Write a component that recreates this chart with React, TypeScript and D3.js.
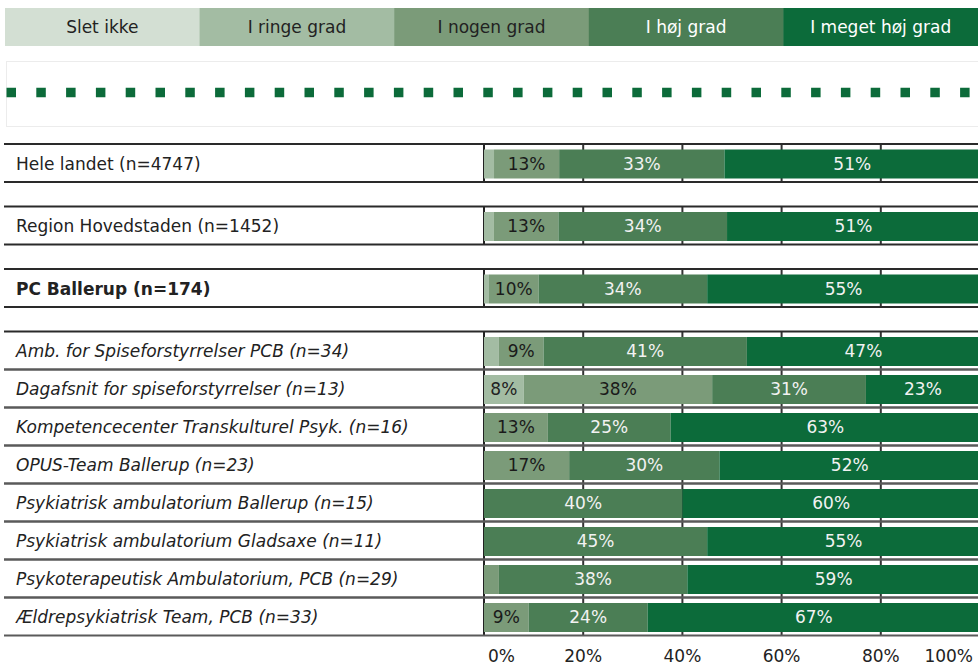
import React from "react";
import * as d3 from "d3";

const categories = [
  "Hele landet (n=4747)",
  "Region Hovedstaden (n=1452)",
  "PC Ballerup (n=174)",
  "Amb. for Spiseforstyrrelser PCB (n=34)",
  "Dagafsnit for spiseforstyrrelser (n=13)",
  "Kompetencecenter Transkulturel Psyk. (n=16)",
  "OPUS-Team Ballerup (n=23)",
  "Psykiatrisk ambulatorium Ballerup (n=15)",
  "Psykiatrisk ambulatorium Gladsaxe (n=11)",
  "Psykoterapeutisk Ambulatorium, PCB (n=29)",
  "Ældrepsykiatrisk Team, PCB (n=33)",
];
const rowStyle = ["normal", "normal", "bold", "italic", "italic", "italic", "italic", "italic", "italic", "italic", "italic"];

const seriesNames = ["Slet ikke", "I ringe grad", "I nogen grad", "I høj grad", "I meget høj grad"];
const sletIkke = [0, 0, 0, 0, 0, 0, 0, 0, 0, 0, 0];
const iRingeGrad = [2, 2, 1, 3, 8, 0, 0, 0, 0, 0, 0];
const iNogenGrad = [13, 13, 10, 9, 38, 13, 17, 0, 0, 3, 9];
const iHoejGrad = [33, 34, 34, 41, 31, 25, 30, 40, 45, 38, 24];
const iMegetHoejGrad = [51, 51, 55, 47, 23, 63, 52, 60, 55, 59, 67];

const tickValues = [0, 20, 40, 60, 80, 100];
const tickLabels = ["0%", "20%", "40%", "60%", "80%", "100%"];

const colors = ["#d3dfd3", "#a3bca3", "#7b9b79", "#4b7e55", "#0c6b3a"];
const textColors = ["#222", "#222", "#1a1a1a", "#f2f2f2", "#f2f2f2"];
const FONT = "'DejaVu Sans', Verdana, sans-serif";

export default function App() {
  const W = 978, H = 667;
  const x = d3.scaleLinear().domain([0, 1]).range([484, 980]);
  const xPct = d3.scaleLinear().domain([0, 100]).range([484, 980]);
  const rowTop = (i: number) => (i <= 3 ? 144 + i * 62.5 : 331.5 + (i - 3) * 38);
  const rowH = 38;

  const table = categories.map((c, i) => ({
    cat: c,
    s0: sletIkke[i], s1: iRingeGrad[i], s2: iNogenGrad[i], s3: iHoejGrad[i], s4: iMegetHoejGrad[i],
  }));
  const keys = ["s0", "s1", "s2", "s3", "s4"];
  const stacked = d3.stack<any>().keys(keys).offset(d3.stackOffsetExpand)(table);

  const legendX = d3.scaleBand<string>().domain(seriesNames).range([5, 978]);
  const lineColor = (i: number) => (i <= 3 ? "#2a2a2a" : "#5a5a5a");

  return (
    <svg width={W} height={H} style={{ position: "absolute", left: 0, top: 0, display: "block", background: "#fff" }}
      fontFamily={FONT}>
      {/* legend */}
      {seriesNames.map((s, k) => (
        <g key={s}>
          <rect x={legendX(s)} y={8} width={legendX.bandwidth() + 0.5} height={38} fill={colors[k]} />
          <text x={(legendX(s) as number) + legendX.bandwidth() / 2} y={32.5} textAnchor="middle" fontSize={17}
            fill={k >= 3 ? "#fff" : "#222"}>{s}</text>
        </g>
      ))}
      {/* dotted separator */}
      <rect x={6.5} y={61.5} width={980} height={65} fill="none" stroke="#ececec" strokeWidth={1} />
      <line x1={6.5} x2={978} y1={92.5} y2={92.5} stroke="#0c6b3a" strokeWidth={9.5} strokeDasharray="9.5 20.3" />

      {/* rows */}
      {categories.map((c, i) => {
        const t = rowTop(i);
        return (
          <g key={c}>
            {tickValues.filter((v) => v > 0 && v < 100).map((v) => (
              <line key={v} x1={xPct(v)} x2={xPct(v)} y1={t} y2={t + rowH} stroke="#333" strokeWidth={2} />
            ))}
            <line x1={484} x2={484} y1={t} y2={t + rowH} stroke="#222" strokeWidth={2} />
            <text x={16} y={t + rowH / 2 + 6.5} fontSize={17} fill="#222"
              fontWeight={rowStyle[i] === "bold" ? "bold" : "normal"}
              fontStyle={rowStyle[i] === "italic" ? "italic" : "normal"}>{c}</text>
          </g>
        );
      })}
      {/* bars */}
      {stacked.map((layer, k) => (
        <g key={k} fill={colors[k]}>
          {layer.map((d, i) => {
            const t = rowTop(i);
            const w = x(d[1]) - x(d[0]);
            if (w <= 0) return null;
            return <rect key={i} x={x(d[0])} y={t + 5.5} width={w} height={29} />;
          })}
        </g>
      ))}
      {/* horizontal row lines */}
      {categories.map((c, i) => {
        const t = rowTop(i);
        return (
          <g key={"l" + i}>
            <line x1={4} x2={978} y1={t} y2={t} stroke={lineColor(i)} strokeWidth={2} />
            <line x1={4} x2={978} y1={t + rowH} y2={t + rowH} stroke={i < 3 ? "#2a2a2a" : "#5a5a5a"} strokeWidth={2} />
          </g>
        );
      })}
      {/* value labels */}
      {stacked.map((layer, k) => (
        <g key={"v" + k}>
          {layer.map((d, i) => {
            const raw = [sletIkke, iRingeGrad, iNogenGrad, iHoejGrad, iMegetHoejGrad][k][i];
            if (raw < 5) return null;
            const t = rowTop(i);
            return (
              <text key={i} x={(x(d[0]) + x(d[1])) / 2} y={t + rowH / 2 + 6.5} textAnchor="middle" fontSize={17}
                fill={textColors[k]}>{raw}%</text>
            );
          })}
        </g>
      ))}
      {/* axis labels */}
      {tickValues.map((v, j) => (
        <text key={v} x={v === 0 ? xPct(v) + 4 : v === 100 ? xPct(v) - 7 : xPct(v)} y={662}
          textAnchor={v === 0 ? "start" : v === 100 ? "end" : "middle"} fontSize={17} fill="#222">{tickLabels[j]}</text>
      ))}
    </svg>
  );
}
